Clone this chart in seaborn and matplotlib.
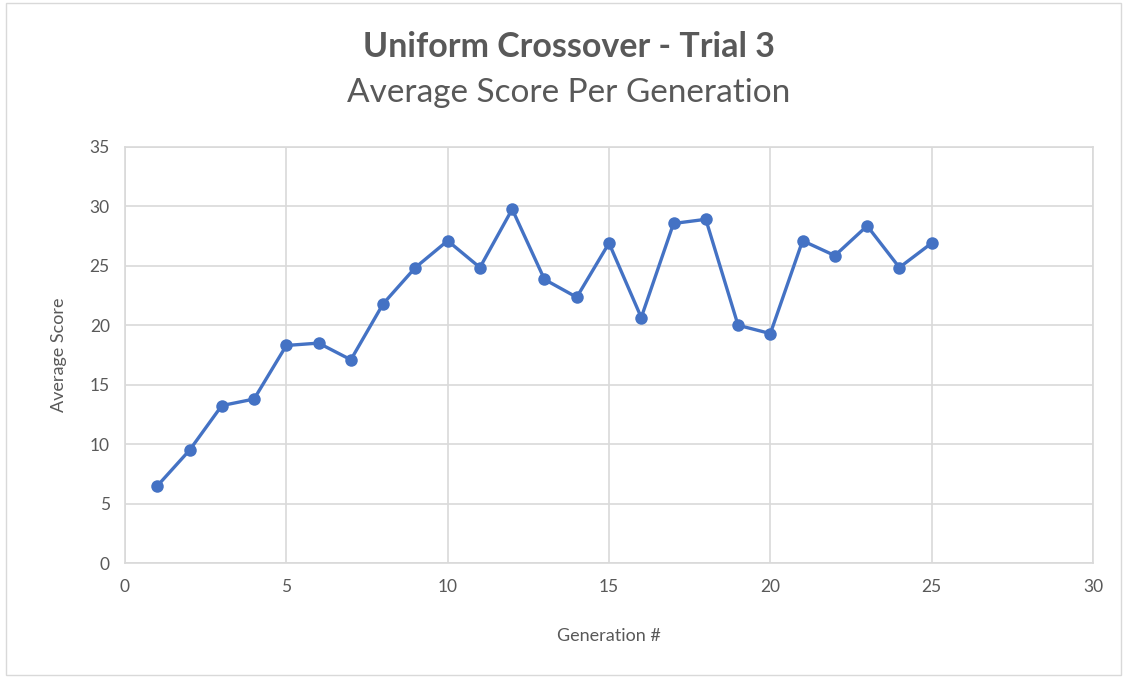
import matplotlib
matplotlib.use("Agg")
import matplotlib.pyplot as plt
import seaborn as sns
import pandas as pd
from matplotlib.patches import Rectangle

generations = list(range(1, 26))
avg_scores = [6.5, 9.5, 13.25, 13.8, 18.3, 18.5, 17.1, 21.8, 24.85, 27.1,
              24.85, 29.75, 23.85, 22.35, 26.9, 20.65, 28.55, 28.9, 20.0, 19.3,
              27.1, 25.85, 28.35, 24.85, 26.9]
x_ticks = [0, 5, 10, 15, 20, 25, 30]
y_ticks = [0, 5, 10, 15, 20, 25, 30, 35]

title = "Uniform Crossover - Trial 3"
subtitle = "Average Score Per Generation"

sns.set_theme(style="white")
plt.rcParams["font.family"] = ["Lato", "DejaVu Sans"]

df = pd.DataFrame({"Generation #": generations, "Average Score": avg_scores})

fig = plt.figure(figsize=(11.25, 6.79), dpi=100)
W, H = 1125, 679
ax = fig.add_axes([125 / W, 1 - 563.3 / H, (1093 - 125) / W, (563.3 - 146.7) / H])

line_color = "#4472C4"
grid_color = "#D9D9D9"
text_color = "#595959"

sns.lineplot(data=df, x="Generation #", y="Average Score", ax=ax,
             color=line_color, linewidth=2.4, marker="o", markersize=9,
             markeredgewidth=0, zorder=3)

ax.set_xlim(0, 30)
ax.set_ylim(0, 35)
ax.set_xticks(x_ticks)
ax.set_yticks(y_ticks)
ax.grid(True, color=grid_color, linewidth=1.2)
for s in ax.spines.values():
    s.set_color(grid_color)
    s.set_linewidth(1.2)
ax.tick_params(axis="both", length=0, labelsize=12.5, labelcolor=text_color, pad=11)

ax.set_xlabel("Generation #", fontsize=13, color=text_color, labelpad=24)
ax.set_ylabel("Average Score", fontsize=13, color=text_color, labelpad=16)

fig.text(569 / W, 1 - 47 / H, title, ha="center", va="center",
         fontsize=24.5, fontweight="bold", color=text_color)
fig.text(569 / W, 1 - 93 / H, subtitle, ha="center", va="center",
         fontsize=24, color=text_color)

# light frame around the chart area
fig.patches.append(Rectangle((6 / W, 4 / H), (1121 - 6) / W, (676 - 4) / H,
                             transform=fig.transFigure, fill=False,
                             edgecolor="#D9D9D9", linewidth=1))

fig.savefig("out.png", dpi=100, facecolor="white")
